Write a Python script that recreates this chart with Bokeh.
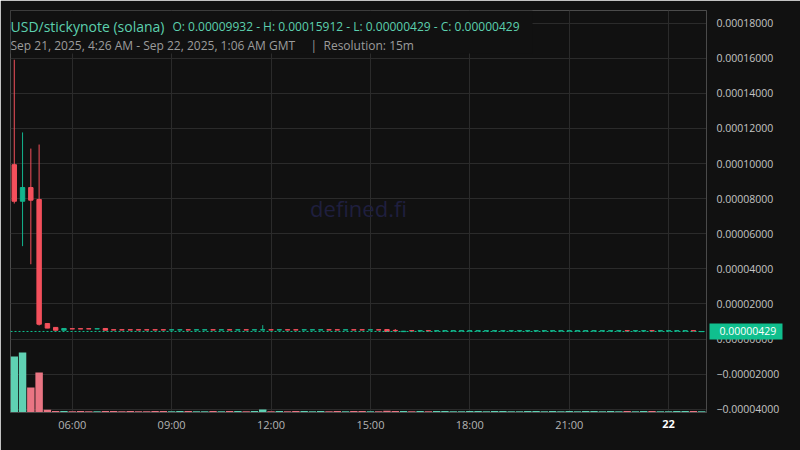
import pandas as pd
from bokeh.plotting import figure
from bokeh.models import (Range1d, FixedTicker, CustomJSTickFormatter, Span, Label,
                          BoxAnnotation, ColumnDataSource, LinearAxis)
from bokeh.embed import file_html
from bokeh.resources import INLINE

# ---------------- data (prices in micro-USD, 15m bars from 2025-09-21 04:15 UTC) ----------------
FIRST_BAR = "2025-09-21 04:15"
BAR_FREQ = "15min"
PRICE_UNIT = 1e-6

opens = [99.32, 78.5, 86.3, 79.5, 8.8, 6.6, 5.0, 5.85, 5.85, 5.85, 5.75, 6.0,
         5.25, 5.25, 5.25, 5.25, 5.25, 5.25, 5.25, 5.15, 5.15, 5.25, 5.15, 5.15,
         5.25, 5.15, 5.25, 5.15, 5.25, 5.15, 5.15, 5.25, 5.15, 5.25, 5.25, 5.15,
         5.15, 5.15, 5.25, 5.25, 5.15, 5.25, 5.25, 5.15, 5.25, 5.4, 4.9, 4.2,
         4.72, 4.62, 4.72, 4.62, 4.62, 4.62, 4.62, 4.62, 4.62, 4.62, 4.62, 4.62,
         4.62, 4.62, 4.62, 4.62, 4.62, 4.62, 4.62, 4.62, 4.62, 4.62, 4.62, 4.62,
         4.62, 4.62, 4.72, 4.62, 4.62, 4.72, 4.62, 4.62, 4.62, 4.62, 4.72, 4.2]
highs = [159.12, 117.7, 108.5, 110.8, 8.8, 6.6, 6.0, 5.85, 5.85, 5.85, 5.85, 6.0,
         5.25, 5.25, 5.25, 5.25, 5.25, 5.25, 5.25, 5.25, 5.25, 5.25, 5.25, 5.25,
         5.25, 5.25, 5.25, 5.25, 5.25, 5.25, 7.9, 5.25, 5.25, 5.25, 5.25, 5.25,
         5.25, 5.25, 5.25, 5.25, 5.25, 5.25, 5.25, 5.25, 5.25, 5.4, 5.7, 4.45,
         4.72, 4.72, 4.72, 4.72, 4.72, 4.72, 4.72, 4.72, 4.72, 4.72, 4.72, 4.72,
         4.72, 4.72, 4.72, 4.72, 4.72, 4.72, 4.72, 4.72, 4.72, 4.72, 4.72, 4.72,
         4.72, 4.72, 4.72, 4.72, 4.72, 4.72, 4.72, 4.72, 4.72, 4.72, 4.72, 4.29]
lows = [77.2, 52.9, 42.6, 7.7, 6.2, 5.0, 5.0, 5.75, 5.75, 5.75, 5.75, 5.0,
        5.15, 5.15, 5.15, 5.15, 5.15, 5.15, 5.15, 5.15, 5.15, 5.15, 5.15, 5.15,
        5.15, 5.15, 5.15, 5.15, 5.15, 5.15, 5.15, 5.15, 5.15, 5.15, 5.15, 5.15,
        5.15, 5.15, 5.15, 5.15, 5.15, 5.15, 5.15, 5.15, 5.15, 4.3, 3.9, 4.2,
        4.62, 4.62, 4.62, 4.62, 4.62, 4.62, 4.62, 4.62, 4.62, 4.62, 4.62, 4.62,
        4.62, 4.62, 4.62, 4.62, 4.62, 4.62, 4.62, 4.62, 4.62, 4.62, 4.62, 4.62,
        4.62, 4.62, 4.62, 4.62, 4.62, 4.62, 4.62, 4.62, 4.62, 4.62, 4.62, 4.2]
closes = [78.5, 86.3, 79.1, 8.4, 6.2, 5.0, 6.0, 5.75, 5.75, 5.75, 5.85, 5.0,
          5.15, 5.15, 5.15, 5.15, 5.15, 5.15, 5.15, 5.25, 5.25, 5.15, 5.25, 5.25,
          5.15, 5.25, 5.15, 5.25, 5.15, 5.25, 5.25, 5.15, 5.25, 5.15, 5.15, 5.25,
          5.25, 5.25, 5.15, 5.15, 5.25, 5.15, 5.15, 5.25, 5.15, 4.3, 4.7, 4.45,
          4.62, 4.72, 4.62, 4.72, 4.72, 4.72, 4.72, 4.72, 4.72, 4.72, 4.72, 4.72,
          4.72, 4.72, 4.72, 4.72, 4.72, 4.72, 4.72, 4.72, 4.72, 4.72, 4.72, 4.72,
          4.72, 4.72, 4.62, 4.72, 4.72, 4.62, 4.72, 4.72, 4.72, 4.72, 4.62, 4.29]
volumes = [1120, 1200, 500, 800, 55, 30, 28, 26, 30, 27, 25, 32,
           28, 26, 30, 25, 27, 29, 31, 26, 28, 30, 27, 25,
           29, 26, 31, 28, 27, 30, 60, 26, 29, 27, 30, 28,
           26, 29, 27, 31, 25, 28, 30, 26, 27, 33, 31, 28,
           27, 29, 26, 30, 28, 25, 27, 29, 31, 26, 28, 30,
           27, 25, 29, 28, 26, 30, 27, 29, 25, 28, 31, 26,
           29, 27, 30, 26, 28, 31, 25, 27, 29, 28, 30, 26]

last_price = 0.00000429
y_ticks = [-0.00004, -0.00002, 0.0, 0.00002, 0.00004, 0.00006, 0.00008,
           0.0001, 0.00012, 0.00014, 0.00016, 0.00018]
x_ticks = ["2025-09-21 06:00", "2025-09-21 09:00", "2025-09-21 12:00", "2025-09-21 15:00",
           "2025-09-21 18:00", "2025-09-21 21:00", "2025-09-22 00:00"]

title_text = "USD/stickynote (solana)"
ohlc_text = "O: 0.00009932 - H: 0.00015912 - L: 0.00000429 - C: 0.00000429"
range_text = "Sep 21, 2025, 4:26 AM - Sep 22, 2025, 1:06 AM GMT"
resolution_text = "Resolution: 15m"
watermark_text = "defined.fi"

# ---------------- style ----------------
BG = "#111111"
GRID = "#2b2b2b"
AXIS = "#4a4a4a"
UP = "#13b48d"
DOWN = "#f4505c"
VOL_UP = "#5fd1b3"
VOL_DOWN = "#e97583"
PRICE_TEAL = "#10bf8e"
TITLE = "#5cd0ae"
SUB = "#9c9c9c"
FONT = "Open Sans"


def ms(s):
    return pd.Timestamp(s).value / 1e6


times = pd.date_range(FIRST_BAR, periods=len(opens), freq=BAR_FREQ)
t_ms = [t.value / 1e6 for t in times]
o = [v * PRICE_UNIT for v in opens]
h = [v * PRICE_UNIT for v in highs]
l = [v * PRICE_UNIT for v in lows]
c = [v * PRICE_UNIT for v in closes]
colors = [UP if cc >= oo else DOWN for oo, cc in zip(o, c)]
vol_colors = [VOL_UP] + [VOL_UP if cc >= oo else VOL_DOWN for oo, cc in zip(o[1:], c[1:])]

src = ColumnDataSource(dict(t=t_ms, o=o, h=h, l=l, c=c,
                            top=[max(a, b) for a, b in zip(o, c)],
                            bot=[min(a, b) for a, b in zip(o, c)],
                            color=colors, vol=volumes, vcolor=vol_colors))

# ---------------- layout geometry (page pixels) ----------------
PAGE_W, PAGE_H = 800, 450
FRAME_L, FRAME_R, FRAME_T, FRAME_B = 10, 706, 10, 412
X_START = ms("2025-09-21 04:08:10")
MS_PER_PX = 3600000 / 33.13
ZERO_PY, PX_PER_TICK = 338.5, 35.1
YAXIS_STANDOFF = 10
YAXIS_WIDTH = 73          # width of the main price-axis panel
XAXIS_STANDOFF = 4
XLABEL_H = 15


def tx(px):
    return X_START + (px - FRAME_L) * MS_PER_PX


def vy(py):
    return (ZERO_PY - py) / PX_PER_TICK * 0.00002


p = figure(frame_width=FRAME_R - FRAME_L, frame_height=FRAME_B - FRAME_T,
           x_axis_type="datetime", y_axis_location="right",
           x_range=Range1d(tx(FRAME_L), tx(FRAME_R)),
           y_range=Range1d(vy(FRAME_B), vy(FRAME_T)),
           output_backend="svg", toolbar_location=None,
           background_fill_color=BG, border_fill_color=BG,
           min_border_left=FRAME_L, min_border_top=FRAME_T,
           min_border_right=PAGE_W - FRAME_R, min_border_bottom=PAGE_H - FRAME_B)
p.outline_line_color = None
p.extra_y_ranges = {"vol": Range1d(0, (FRAME_B - FRAME_T) * 20)}

# axes
xt = FixedTicker(ticks=[ms(s) for s in x_ticks])
p.xaxis.ticker = xt
p.xgrid.ticker = xt
yt = FixedTicker(ticks=y_ticks)
p.yaxis.ticker = yt
p.ygrid.ticker = yt
p.yaxis.formatter = CustomJSTickFormatter(code="""
const s = Math.abs(tick).toFixed(8);
return (tick < -1e-12) ? "\\u2212" + s : s;
""")
for ax in (p.xaxis[0], p.yaxis[0]):
    ax.axis_line_color = AXIS
    ax.major_tick_line_color = None
    ax.minor_tick_line_color = None
    ax.major_tick_in = 0
    ax.major_tick_out = 0
    ax.minor_tick_in = 0
    ax.minor_tick_out = 0
    ax.major_label_text_font = FONT
p.xaxis.major_label_text_font_size = "11px"
p.xaxis.major_label_text_alpha = 0          # the bottom axis only draws the frame line
p.yaxis.major_label_text_font_size = "10.5px"
p.yaxis.major_label_text_color = "#c4c4c4"
p.yaxis.major_label_standoff = YAXIS_STANDOFF
p.xgrid.grid_line_color = GRID
p.ygrid.grid_line_color = GRID

# time labels and the bold day label on overlapping bottom axes
ax_time = LinearAxis(ticker=xt,
                     formatter=CustomJSTickFormatter(code="""
const d = new Date(tick); const hh = d.getUTCHours();
if (hh == 0) { return ""; }
return (hh < 10 ? "0" : "") + hh + ":00";
"""),
                     axis_line_color=None, major_tick_line_color=None, minor_tick_line_color=None,
                     major_tick_in=0, major_tick_out=0, minor_tick_in=0, minor_tick_out=0,
                     major_label_text_font=FONT, major_label_text_font_size="11px",
                     major_label_text_color="#b4b4b4",
                     major_label_standoff=XAXIS_STANDOFF)
p.add_layout(ax_time, "below")
ax_day = LinearAxis(ticker=FixedTicker(ticks=[ms(x_ticks[-1])]),
                    formatter=CustomJSTickFormatter(code="return String(new Date(tick).getUTCDate());"),
                    axis_line_color=None, major_tick_line_color=None, minor_tick_line_color=None,
                    major_tick_in=0, major_tick_out=0, minor_tick_in=0, minor_tick_out=0,
                    major_label_text_font=FONT, major_label_text_font_size="11px",
                    major_label_text_font_style="bold", major_label_text_color="#ffffff",
                    major_label_standoff=-XLABEL_H)
p.add_layout(ax_day, "below")

# last-price tag on a second right axis whose tick forms the box
ax_price = LinearAxis(ticker=FixedTicker(ticks=[last_price]),
                      formatter=CustomJSTickFormatter(code="return tick.toFixed(8);"),
                      axis_line_color=None, minor_tick_line_color=None,
                      major_tick_line_color=PRICE_TEAL, major_tick_line_width=16,
                      major_tick_in=YAXIS_WIDTH, major_tick_out=0,
                      minor_tick_in=0, minor_tick_out=0,
                      major_label_text_font=FONT, major_label_text_font_size="10.5px",
                      major_label_text_color="#ffffff",
                      major_label_standoff=10 - YAXIS_WIDTH)
p.add_layout(ax_price, "right")

# header background (hides grid under the legend text)
p.add_layout(BoxAnnotation(left=tx(FRAME_L), right=tx(532), top=vy(FRAME_T), bottom=vy(53),
                           fill_color=BG, fill_alpha=1.0, line_color=None, level="underlay"))

# watermark
p.add_layout(Label(x=tx((FRAME_L + FRAME_R) / 2), y=vy(207), text=watermark_text,
                   text_font=FONT, text_font_size="22px", text_color="#1f1f3e",
                   text_align="center", text_baseline="middle", level="underlay"))

# volume
p.vbar(x="t", width=13.5 * 60000, top="vol", bottom=0, y_range_name="vol",
       fill_color="vcolor", line_color=None, source=src)

# candles
p.segment(x0="t", y0="h", x1="t", y1="l", line_color="color", line_width=1, source=src)
p.vbar(x="t", width=8 * 60000, top="top", bottom="bot", fill_color="color",
       line_color="color", line_width=1, source=src)

# last price line
p.add_layout(Span(location=last_price, dimension="width", line_color=PRICE_TEAL,
                  line_dash="2 2", line_width=1))

# header texts
p.add_layout(Label(x=tx(10), y=vy(25.5), text=title_text, text_font=FONT,
                   text_font_size="14px", text_color=TITLE, text_baseline="alphabetic"))
p.add_layout(Label(x=tx(172), y=vy(25.5), text=ohlc_text, text_font=FONT,
                   text_font_size="12px", text_color=TITLE, text_baseline="alphabetic"))
p.add_layout(Label(x=tx(10), y=vy(45), text=range_text, text_font=FONT,
                   text_font_size="12px", text_color=SUB, text_baseline="alphabetic"))
p.add_layout(Label(x=tx(310), y=vy(45), text="|", text_font=FONT,
                   text_font_size="12px", text_color=SUB, text_baseline="alphabetic"))
p.add_layout(Label(x=tx(323), y=vy(45), text=resolution_text, text_font=FONT,
                   text_font_size="12px", text_color=SUB, text_baseline="alphabetic"))

open("out.html", "w").write(file_html(p, INLINE))
